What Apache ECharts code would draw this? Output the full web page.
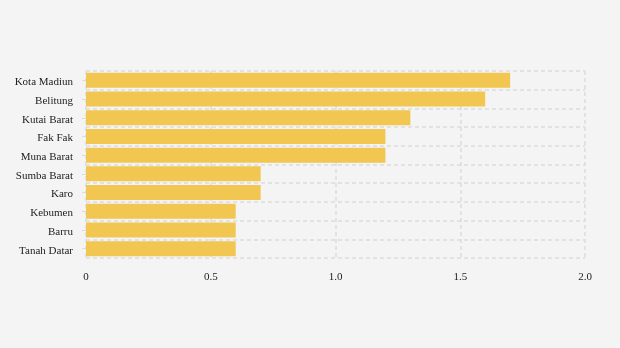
<!DOCTYPE html>
<html>
<head>
<meta charset="utf-8">
<script src="https://cdn.jsdelivr.net/npm/echarts@6/dist/echarts.min.js"></script>
<style>
html,body{margin:0;padding:0;background:#f4f4f4;}
#chart{width:620px;height:348px;}
</style>
</head>
<body>
<div id="chart"></div>
<script>
const categories = ["Kota Madiun","Belitung","Kutai Barat","Fak Fak","Muna Barat","Sumba Barat","Karo","Kebumen","Barru","Tanah Datar"];
const values = [1.7,1.6,1.3,1.2,1.2,0.7,0.7,0.6,0.6,0.6];
const xTicks = [0,0.5,1.0,1.5,2.0];

const chart = echarts.init(document.getElementById('chart'));
const gridLine = {show:true,lineStyle:{color:'#dcdcdc',type:[4,3],width:1.5}};
chart.setOption({
  backgroundColor:'#f4f4f4',
  textStyle:{fontFamily:'Liberation Serif'},
  grid:{left:86,right:35,top:71,bottom:90,containLabel:false},
  xAxis:{
    type:'value',min:xTicks[0],max:xTicks[xTicks.length-1],interval:0.5,
    axisLine:{show:false},axisTick:{show:false},
    axisLabel:{color:'#222',fontSize:11,fontFamily:'Liberation Serif',margin:14,
      formatter:function(v){return v===0?'0':v.toFixed(1);}},
    splitLine:gridLine
  },
  yAxis:{
    type:'category',inverse:true,data:categories,
    axisLine:{show:false},
    axisTick:{show:true,alignWithLabel:true,length:4,lineStyle:{color:'#ddd'}},
    axisLabel:{color:'#222',fontSize:11,fontFamily:'Liberation Serif',margin:13,
      formatter:function(v){return '{a|'+v+'}';},
      rich:{a:{color:'#222',fontSize:11,fontFamily:'Liberation Serif',padding:[4,0,0,0]}}},
    splitLine:gridLine
  },
  series:[{
    type:'bar',data:values,barWidth:'80%',
    itemStyle:{color:'#f1c751'},
    animation:false
  }],
  animation:false
});
</script>
</body>
</html>
